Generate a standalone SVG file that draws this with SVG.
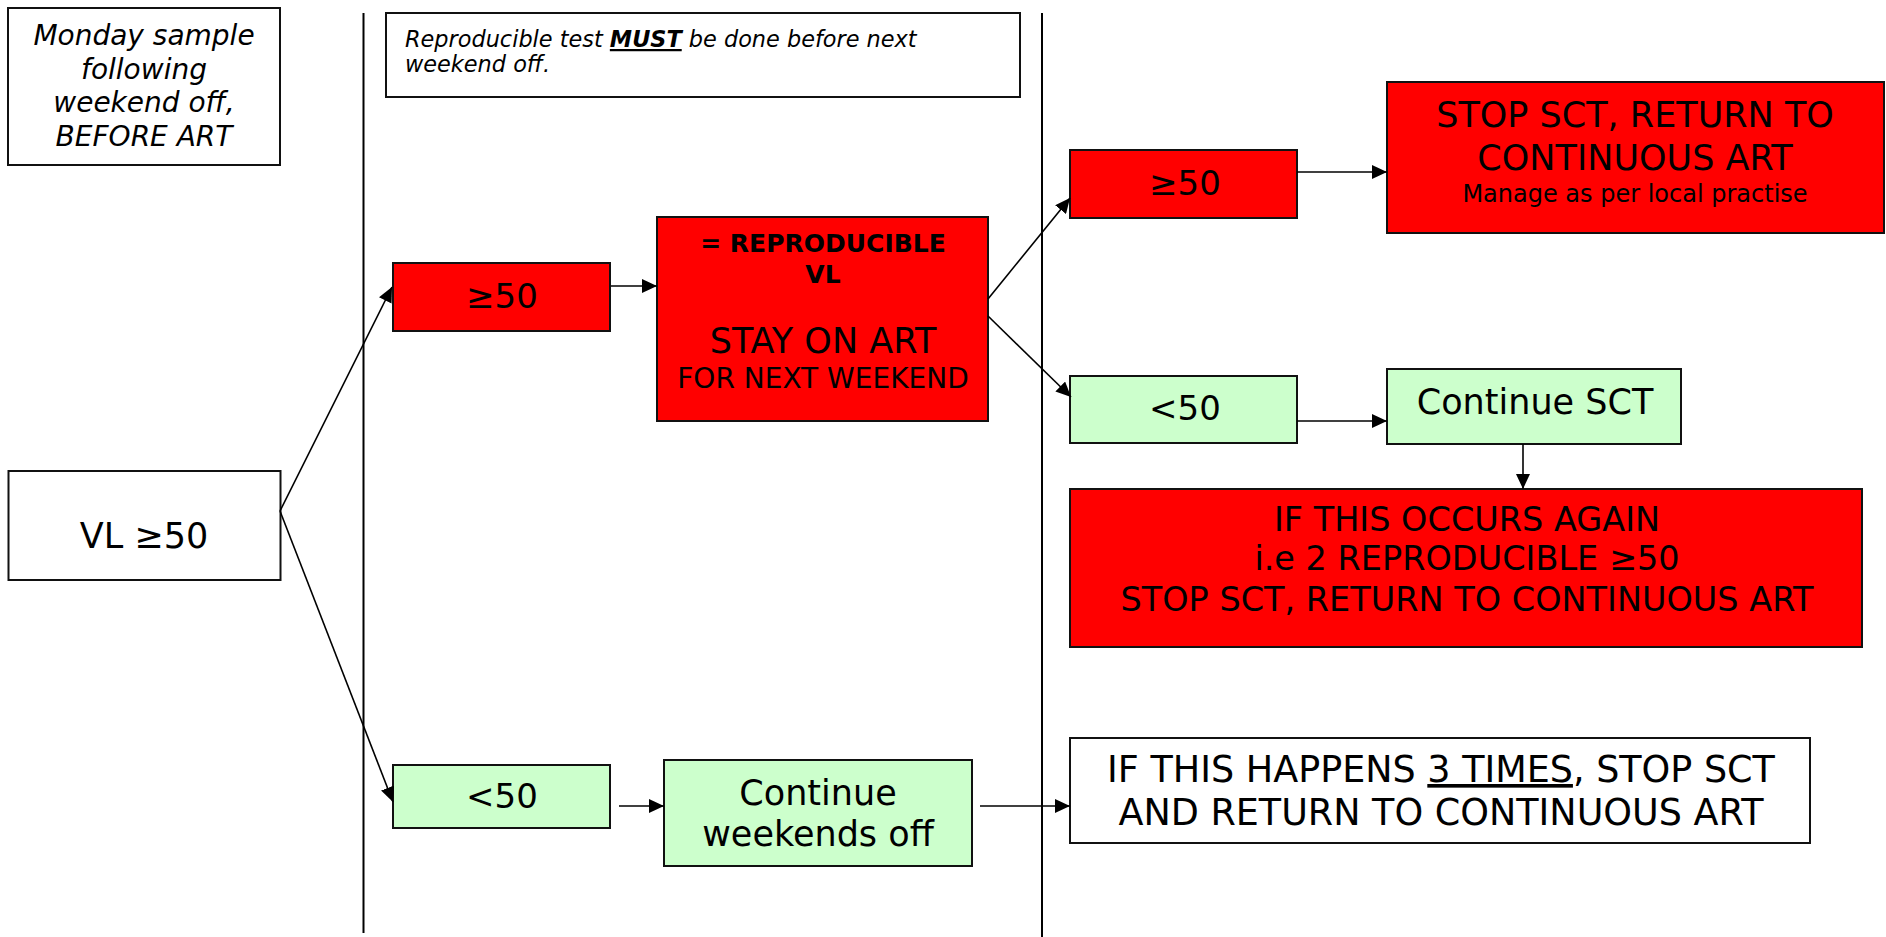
<svg xmlns="http://www.w3.org/2000/svg" width="1886" height="937" viewBox="0 0 1886 937">
<style>
text{font-family:"DejaVu Sans","Verdana",sans-serif;fill:#000;}
.c{text-anchor:middle;}
.box{stroke:#111;stroke-width:2;}
.red{fill:#FF0000;}
.grn{fill:#CCFFCC;}
.wht{fill:#FFFFFF;}
.conn line{stroke:#000;stroke-width:1.6;}
.div{stroke:#000;stroke-width:2;}
</style>
<defs>
<marker id="ah" markerUnits="userSpaceOnUse" markerWidth="16" markerHeight="14" refX="15" refY="7" orient="auto">
<path d="M0,0 L15,7 L0,14 z" fill="#000"/>
</marker>
</defs>
<rect width="1886" height="937" fill="#fff"/>
<g id="dividers">
<line class="div" x1="363.5" y1="13" x2="363.5" y2="933"/>
<line class="div" x1="1042" y1="13" x2="1042" y2="937"/>
</g>
<g id="monday">
<rect class="box wht" x="8" y="8" width="272" height="157"/>
<text class="c" font-style="italic" font-size="28"><tspan x="144" y="45">Monday sample</tspan><tspan x="144" y="79">following</tspan><tspan x="144" y="112">weekend off,</tspan><tspan x="144" y="146">BEFORE ART</tspan></text>
</g>
<g id="note">
<rect class="box wht" x="386" y="13" width="634" height="84"/>
<text font-style="italic" font-size="22.4"><tspan x="405" y="47">Reproducible test <tspan font-weight="bold" text-decoration="underline">MUST</tspan> be done before next</tspan><tspan x="405" y="72">weekend off.</tspan></text>
</g>
<g id="vl">
<rect class="box wht" x="8.5" y="471" width="272" height="109"/>
<text class="c" x="144" y="548" font-size="35">VL ≥50</text>
</g>
<g id="ge50a">
<rect class="box red" x="393" y="263" width="217" height="68"/>
<text class="c" x="502" y="308" font-size="34">≥50</text>
</g>
<g id="repro">
<rect class="box red" x="657" y="217" width="331" height="204"/>
<text class="c" font-size="25" font-weight="bold"><tspan x="823" y="252">= REPRODUCIBLE</tspan><tspan x="823" y="283">VL</tspan></text>
<text class="c" x="823" y="353" font-size="35">STAY ON ART</text>
<text class="c" x="823" y="388" font-size="28">FOR NEXT WEEKEND</text>
</g>
<g id="lt50a">
<rect class="box grn" x="393" y="765" width="217" height="63"/>
<text class="c" x="502" y="808" font-size="34">&lt;50</text>
</g>
<g id="contwk">
<rect class="box grn" x="664" y="760" width="308" height="106"/>
<text class="c" font-size="35"><tspan x="818" y="805">Continue</tspan><tspan x="818" y="846">weekends off</tspan></text>
</g>
<g id="ge50b">
<rect class="box red" x="1070" y="150" width="227" height="68"/>
<text class="c" x="1185" y="195" font-size="34">≥50</text>
</g>
<g id="stop">
<rect class="box red" x="1387" y="82" width="497" height="151"/>
<text class="c" font-size="35"><tspan x="1635" y="127">STOP SCT, RETURN TO</tspan><tspan x="1635" y="170">CONTINUOUS ART</tspan></text>
<text class="c" x="1635" y="202" font-size="24">Manage as per local practise</text>
</g>
<g id="lt50b">
<rect class="box grn" x="1070" y="376" width="227" height="67"/>
<text class="c" x="1185" y="420" font-size="34">&lt;50</text>
</g>
<g id="contsct">
<rect class="box grn" x="1387" y="369" width="294" height="75"/>
<text class="c" x="1535" y="414" font-size="35">Continue SCT</text>
</g>
<g id="again">
<rect class="box red" x="1070" y="489" width="792" height="158"/>
<text class="c" font-size="33.5"><tspan x="1467" y="531">IF THIS OCCURS AGAIN</tspan><tspan x="1467" y="570">i.e 2 REPRODUCIBLE ≥50</tspan><tspan x="1467" y="611">STOP SCT, RETURN TO CONTINUOUS ART</tspan></text>
</g>
<g id="three">
<rect class="box wht" x="1070" y="738" width="740" height="105"/>
<text class="c" font-size="36.5"><tspan x="1441" y="782">IF THIS HAPPENS <tspan text-decoration="underline">3 TIMES</tspan>, STOP SCT</tspan><tspan x="1441" y="825">AND RETURN TO CONTINUOUS ART</tspan></text>
</g>
<g id="connectors" class="conn">
<line x1="280" y1="511" x2="392" y2="287" marker-end="url(#ah)"/>
<line x1="280" y1="511" x2="393" y2="802" marker-end="url(#ah)"/>
<line x1="611" y1="286" x2="657" y2="286" marker-end="url(#ah)"/>
<line x1="988" y1="299" x2="1070" y2="198" marker-end="url(#ah)"/>
<line x1="988" y1="316" x2="1071" y2="397" marker-end="url(#ah)"/>
<line x1="1297" y1="172" x2="1387" y2="172" marker-end="url(#ah)"/>
<line x1="1297" y1="421" x2="1387" y2="421" marker-end="url(#ah)"/>
<line x1="1523" y1="444" x2="1523" y2="489" marker-end="url(#ah)"/>
<line x1="619" y1="806" x2="664" y2="806" marker-end="url(#ah)"/>
<line x1="980" y1="806" x2="1070" y2="806" marker-end="url(#ah)"/>
</g>
</svg>
